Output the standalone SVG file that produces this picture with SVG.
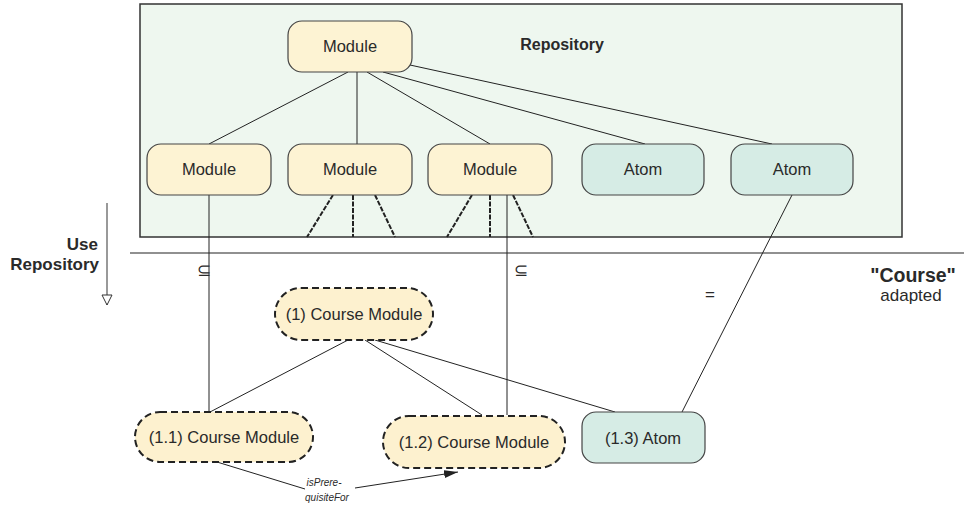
<svg xmlns="http://www.w3.org/2000/svg" width="964" height="507" viewBox="0 0 964 507">
<style>
text{font-family:"Liberation Sans",Arial,sans-serif;fill:#2a2a2a}
.lbl{font-size:16.5px;text-anchor:middle}
.mod{fill:#fdf3d3;stroke:#444;stroke-width:1.2}
.atom{fill:#d6ece5;stroke:#444;stroke-width:1.2}
.course{fill:#fdf1cf;stroke:#222;stroke-width:2;stroke-dasharray:7,4}
.ln{stroke:#222;stroke-width:1;fill:none}
.dsh{stroke:#222;stroke-width:2;stroke-dasharray:5,1.5;fill:none}
</style>
<defs>
<marker id="tri" viewBox="0 0 12 12" refX="11" refY="6" markerWidth="12" markerHeight="12" markerUnits="userSpaceOnUse" orient="auto">
<path d="M1,1 L11,6 L1,11 Z" fill="#fff" stroke="#333"/>
</marker>
<marker id="fill" viewBox="0 0 14 8" refX="14" refY="4" markerWidth="14" markerHeight="8" markerUnits="userSpaceOnUse" orient="auto">
<path d="M0,0 L14,4 L0,8 Z" fill="#222"/>
</marker>
</defs>
<g id="repository">
<rect x="140" y="4" width="762" height="233" fill="#eef7ef" stroke="#333" stroke-width="1.5"/>
<text x="562" y="50" font-size="16" font-weight="bold" text-anchor="middle">Repository</text>
</g>
<line x1="130" y1="253" x2="964" y2="253" stroke="#222" stroke-width="1.2"/>
<g id="connectors">
<line class="ln" x1="348" y1="72" x2="209" y2="144"/>
<line class="ln" x1="357" y1="72" x2="357" y2="144"/>
<line class="ln" x1="367" y1="72" x2="490" y2="144"/>
<line class="ln" x1="383" y1="72" x2="645" y2="144"/>
<line class="ln" x1="410" y1="65" x2="772" y2="144"/>
<line class="dsh" x1="333" y1="195" x2="307" y2="237"/>
<line class="dsh" x1="353" y1="195" x2="353" y2="237"/>
<line class="dsh" x1="375" y1="195" x2="395" y2="237"/>
<line class="dsh" x1="472" y1="195" x2="447" y2="237"/>
<line class="dsh" x1="490" y1="195" x2="490" y2="237"/>
<line class="dsh" x1="513" y1="195" x2="533" y2="237"/>
<line class="ln" x1="209" y1="195" x2="209" y2="412"/>
<line class="ln" x1="507" y1="195" x2="507" y2="415"/>
<line class="ln" x1="792" y1="195" x2="682" y2="412"/>
<line class="ln" x1="348" y1="340" x2="210" y2="412"/>
<line class="ln" x1="365" y1="340" x2="482" y2="415"/>
<line class="ln" x1="375" y1="340" x2="615" y2="412"/>
<line class="ln" x1="217" y1="462" x2="305" y2="489"/>
<line class="ln" x1="355" y1="488" x2="458" y2="472" marker-end="url(#fill)"/>
<line x1="107" y1="203" x2="107" y2="305" stroke="#555" stroke-width="1.2" marker-end="url(#tri)"/>
</g>
<g id="labels">
<text x="98" y="250" font-size="17" font-weight="bold" text-anchor="end">Use</text>
<text x="99" y="270" font-size="17" font-weight="bold" text-anchor="end">Repository</text>
<text x="204" y="276" font-size="17" text-anchor="middle">⊆</text>
<text x="521" y="276" font-size="17" text-anchor="middle">⊆</text>
<text x="710" y="300" font-size="17" text-anchor="middle">=</text>
<text x="913" y="282" font-size="19.5" font-weight="bold" text-anchor="middle">"Course"</text>
<text x="911" y="301" font-size="17" text-anchor="middle">adapted</text>
<text x="324" y="486" font-size="10" font-style="italic" text-anchor="middle">isPrere-</text>
<text x="327" y="501" font-size="10" font-style="italic" text-anchor="middle">quisiteFor</text>
</g>
<g id="module-top"><rect class="mod" x="288" y="21" width="124" height="51" rx="14"/><text class="lbl" x="350" y="52">Module</text></g>
<g id="module-1"><rect class="mod" x="147" y="144" width="124" height="51" rx="14"/><text class="lbl" x="209" y="175">Module</text></g>
<g id="module-2"><rect class="mod" x="288" y="144" width="124" height="51" rx="14"/><text class="lbl" x="350" y="175">Module</text></g>
<g id="module-3"><rect class="mod" x="428" y="144" width="124" height="51" rx="14"/><text class="lbl" x="490" y="175">Module</text></g>
<g id="atom-1"><rect class="atom" x="582" y="144" width="122" height="51" rx="14"/><text class="lbl" x="643" y="175">Atom</text></g>
<g id="atom-2"><rect class="atom" x="731" y="144" width="122" height="51" rx="14"/><text class="lbl" x="792" y="175">Atom</text></g>
<g id="course-1"><rect class="course" x="275" y="288" width="158" height="52" rx="26"/><text class="lbl" x="354" y="320">(1) Course Module</text></g>
<g id="course-1-1"><rect class="course" x="135" y="412" width="178" height="50" rx="25"/><text class="lbl" x="224" y="443">(1.1) Course Module</text></g>
<g id="course-1-2"><rect class="course" x="383" y="416" width="182" height="52" rx="26"/><text class="lbl" x="474" y="448">(1.2) Course Module</text></g>
<g id="atom-1-3"><rect class="atom" x="582" y="412" width="123" height="51" rx="14"/><text class="lbl" x="643" y="444">(1.3) Atom</text></g>
</svg>
